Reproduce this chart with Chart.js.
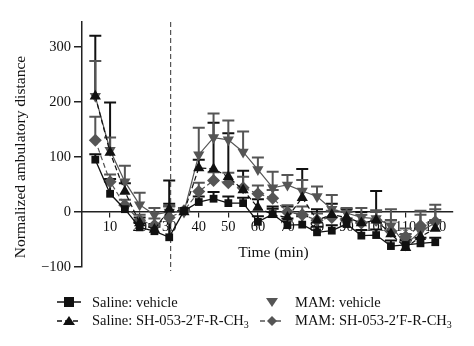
<!DOCTYPE html>
<html>
<head>
<meta charset="utf-8">
<script src="https://cdn.jsdelivr.net/npm/chart.js@4.4.0/dist/chart.umd.min.js"></script>
<style>
  html, body { margin: 0; padding: 0; background: #fff; }
  #wrap { position: relative; width: 474px; height: 346px; }
  #c { position: absolute; left: 0; top: 0; }
  .leg { position: absolute; display: flex; align-items: center; font-family: "Liberation Serif", "DejaVu Serif", serif; font-size: 14.5px; color: #111; white-space: nowrap; height: 16px; }
  .leg svg { flex: none; }
  .leg span { margin-left: 10px; }
  .leg sub { font-size: 10px; vertical-align: -3px; line-height: 0; }
</style>
</head>
<body>
<div id="wrap">
  <canvas id="c" width="474" height="346"></canvas>
  <div class="leg" style="left:56px; top:294px;">
    <svg width="26" height="14"><line x1="1" y1="7" x2="25" y2="7" stroke="#111" stroke-width="1.5"/><rect x="8" y="2" width="10" height="10" fill="#111"/></svg>
    <span>Saline: vehicle</span>
  </div>
  <div class="leg" style="left:56px; top:312px;">
    <svg width="26" height="14"><line x1="1" y1="8" x2="25" y2="8" stroke="#111" stroke-width="1.5" stroke-dasharray="5,3"/><polygon points="13,3 19,12 7,12" fill="#111"/></svg>
    <span>Saline: SH-053-2′F-R-CH<sub>3</sub></span>
  </div>
  <div class="leg" style="left:259px; top:294px;">
    <svg width="26" height="14"><polygon points="7,3 19,3 13,12" fill="#555"/></svg>
    <span>MAM: vehicle</span>
  </div>
  <div class="leg" style="left:259px; top:312px;">
    <svg width="26" height="14"><line x1="1" y1="8" x2="25" y2="8" stroke="#555" stroke-width="1.5" stroke-dasharray="5,3"/><polygon points="13,3 18,8 13,13 8,8" fill="#555"/></svg>
    <span>MAM: SH-053-2′F-R-CH<sub>3</sub></span>
  </div>
</div>
<script>
// time points (min)
const times = [5, 10, 15, 20, 25, 30, 35, 40, 45, 50, 55, 60, 65, 70, 75, 80, 85, 90, 95, 100, 105, 110, 115, 120];

// means
const salineVehicle = [95, 33, 5, -28, -35, -46, 2, 18, 24, 16, 16, -18, -4, -24, -23, -37, -34, -22, -43, -42, -62, -60, -57, -55];
const salineSH      = [210, 108, 37, -20, -32, 5, 0, 80, 78, 64, 40, 8, -5, -10, 26, -15, -5, -10, -20, -15, -40, -65, -45, -30];
const mamVehicle    = [210, 112, 55, 13, -5, 0, 0, 104, 135, 131, 109, 77, 44, 49, 38, 28, 5, -2, -10, -12, -25, -60, -35, -20];
const mamSH         = [130, 55, 12, -15, -24, -10, 2, 37, 57, 53, 44, 33, 25, 0, -5, -15, -10, -15, -20, -15, -35, -45, -25, -18];

// upper error (SEM)
const salineVehicleErr = [10, 27, 8, 8, 8, 103, 5, 10, 12, 12, 10, 10, 10, 12, 15, 10, 10, 10, 10, 10, 10, 8, 10, 8];
const salineSHErr      = [110, 91, 15, 10, 10, 10, 5, 15, 84, 79, 35, 15, 15, 20, 52, 20, 20, 15, 20, 53, 25, 15, 15, 15];
const mamVehicleErr    = [64, 23, 29, 22, 12, 11, 5, 49, 44, 35, 37, 22, 29, 18, 20, 18, 26, 9, 17, 15, 30, 20, 37, 25];
const mamSHErr         = [43, 13, 10, 10, 12, 20, 5, 16, 15, 18, 20, 15, 15, 12, 15, 12, 12, 15, 15, 15, 20, 15, 20, 31];

const xTicks = [10, 20, 30, 40, 50, 60, 70, 80, 90, 100, 110, 120];
const yTicks = [-100, 0, 100, 200, 300];
const injectionTime = 30.5;

const serif = '"Liberation Serif", "DejaVu Serif", serif';
const black = '#111';
const gray = '#555';

const pts = arr => arr.map((v, i) => ({ x: times[i], y: v }));

const errorBars = {
  id: 'errorBars',
  beforeDatasetsDraw(chart) {
    const ctx = chart.ctx;
    const yScale = chart.scales.y;
    chart.data.datasets.forEach((ds, di) => {
      const meta = chart.getDatasetMeta(di);
      ctx.save();
      ctx.strokeStyle = ds.borderColor;
      ctx.lineWidth = 2;
      meta.data.forEach((p, i) => {
        const top = yScale.getPixelForValue(ds.data[i].y + ds.err[i]);
        ctx.beginPath();
        ctx.moveTo(p.x, p.y);
        ctx.lineTo(p.x, top);
        ctx.moveTo(p.x - 6, top);
        ctx.lineTo(p.x + 6, top);
        ctx.stroke();
      });
      ctx.restore();
    });
  }
};

const extras = {
  id: 'extras',
  beforeDatasetsDraw(chart) {
    const { ctx, chartArea } = chart;
    const x = chart.scales.x.getPixelForValue(injectionTime);
    ctx.save();
    ctx.strokeStyle = '#333';
    ctx.lineWidth = 1;
    ctx.setLineDash([5, 3]);
    ctx.beginPath();
    ctx.moveTo(x, chartArea.top);
    ctx.lineTo(x, chartArea.bottom + 4);
    ctx.stroke();
    ctx.restore();
  },
  afterDraw(chart) {
    const { ctx, chartArea } = chart;
    ctx.save();
    ctx.font = '15.5px ' + serif;
    ctx.fillStyle = '#111';
    ctx.textAlign = 'center';
    ctx.textBaseline = 'middle';
    ctx.fillText('Time (min)', (chartArea.left + chartArea.right) / 2 + 6, 253);
    ctx.translate(21, 157);
    ctx.rotate(-Math.PI / 2);
    ctx.fillText('Normalized ambulatory distance', 0, 0);
    ctx.restore();
  }
};

new Chart(document.getElementById('c'), {
  type: 'line',
  data: {
    datasets: [
      { label: 'Saline: vehicle', data: pts(salineVehicle), err: salineVehicleErr,
        borderColor: black, backgroundColor: black, borderWidth: 1.3,
        pointStyle: 'rect', pointRadius: 5.5, pointBorderWidth: 0 },
      { label: 'Saline: SH-053-2′F-R-CH3', data: pts(salineSH), err: salineSHErr,
        borderColor: black, backgroundColor: black, borderWidth: 1.2, borderDash: [5, 3],
        pointStyle: 'triangle', pointRadius: 6.5, pointBorderWidth: 0 },
      { label: 'MAM: vehicle', data: pts(mamVehicle), err: mamVehicleErr,
        borderColor: gray, backgroundColor: gray, borderWidth: 1.2,
        pointStyle: 'triangle', pointRotation: 180, pointRadius: 6.5, pointBorderWidth: 0 },
      { label: 'MAM: SH-053-2′F-R-CH3', data: pts(mamSH), err: mamSHErr,
        borderColor: gray, backgroundColor: gray, borderWidth: 1.2, borderDash: [5, 3],
        pointStyle: 'rectRot', pointRadius: 6.5, pointBorderWidth: 0 }
    ]
  },
  options: {
    responsive: false,
    animation: false,
    layout: { padding: { left: 0, right: 21, top: 22, bottom: 79 } },
    plugins: { legend: { display: false }, tooltip: { enabled: false } },
    elements: { line: { tension: 0 } },
    scales: {
      x: {
        type: 'linear', min: 0.5, max: 126, position: { y: 0 },
        afterBuildTicks: s => { s.ticks = xTicks.map(v => ({ value: v })); },
        border: { color: '#222', width: 1.5 },
        grid: { drawOnChartArea: false, tickLength: 5, color: '#222', lineWidth: 1.2 },
        ticks: { font: { family: serif, size: 14.5 }, color: '#111', padding: 2, maxRotation: 0, autoSkip: false }
      },
      y: {
        min: -100, max: 345,
        afterBuildTicks: s => { s.ticks = yTicks.map(v => ({ value: v })); },
        afterFit: s => { s.width = 82; },
        border: { color: '#222', width: 1.5 },
        grid: { drawOnChartArea: false, tickLength: 8, color: '#222', lineWidth: 1.5 },
        ticks: { font: { family: serif, size: 14.5 }, color: '#111', padding: 3,
          callback: v => v < 0 ? '\u2212' + Math.abs(v) : String(v) }
      }
    }
  },
  plugins: [errorBars, extras]
});
</script>
</body>
</html>
